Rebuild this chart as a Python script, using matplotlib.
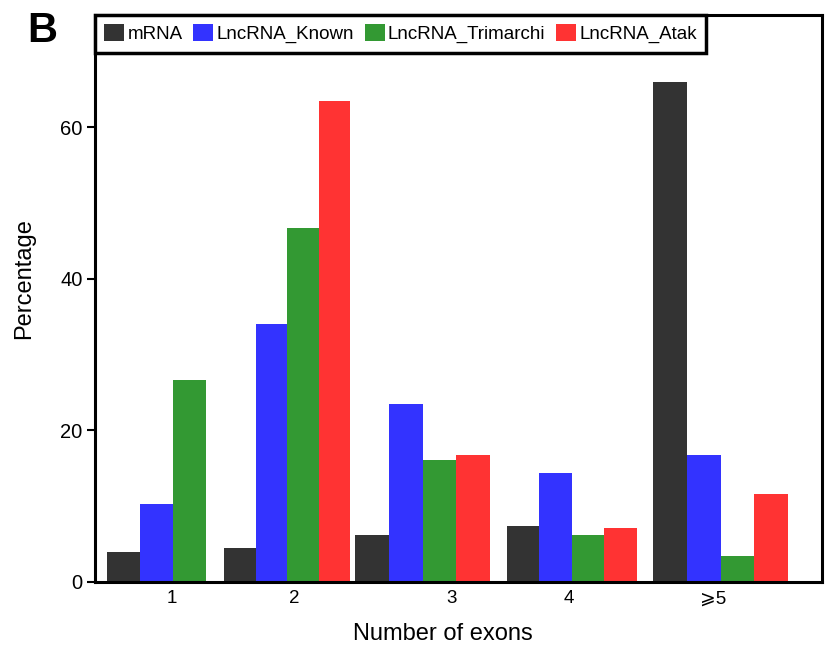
import matplotlib

matplotlib.use("Agg")
import matplotlib.pyplot as plt
import numpy as np

plt.rcParams["font.family"] = ["Liberation Sans", "DejaVu Sans"]

# exon-count classes and percentages per transcript set
categorias = ["1", "2", "3", "4", "\u2a7e5"]
series = ["mRNA", "LncRNA_Known", "LncRNA_Trimarchi", "LncRNA_Atak"]
mrna = [4.0, 4.5, 6.2, 7.4, 66.0]
lnc_known = [10.3, 34.0, 23.5, 14.4, 16.8]
lnc_trimarchi = [26.6, 46.7, 16.1, 6.2, 3.4]
lnc_atak = [0.0, 63.5, 16.8, 7.1, 11.6]

# group layout (bar-width units): left edge, bar width, label spot
inicio_grupo = np.array([0.36, 3.91, 7.88, 12.48, 16.91])
largura_grupo = np.array([1.0, 0.955, 1.023, 0.985, 1.023])
pos_rotulo = [2.33, 6.03, 10.79, 14.36, 18.73]

cores = ["#333333", "#3333ff", "#339933", "#ff3333"]

fig = plt.figure(figsize=(8.29, 6.47), dpi=100)
ax = fig.add_axes([0.1146, 0.1005, 0.877, 0.8763])

valores = [mrna, lnc_known, lnc_trimarchi, lnc_atak]
for i, (nome, vals, cor) in enumerate(zip(series, valores, cores)):
    x = inicio_grupo + largura_grupo * (i + 0.5)
    ax.bar(x, vals, width=largura_grupo, color=cor, label=nome, linewidth=0)

ax.set_xlim(0, 22.03)
ax.set_ylim(0, 74.8)
ax.set_yticks([0, 20, 40, 60])
ax.set_xticks(pos_rotulo)
ax.set_xticklabels(categorias, fontsize=13.5)
ax.tick_params(axis="x", length=0, pad=6)
ax.tick_params(axis="y", length=6, width=1.5, labelsize=14.5, pad=3)
for s in ax.spines.values():
    s.set_linewidth(2.2)

ax.set_ylabel("Percentage", fontsize=17)
ax.yaxis.set_label_coords(-0.083, 0.535)
ax.set_xlabel("Number of exons", fontsize=17)
ax.xaxis.set_label_coords(0.478, -0.072)

leg = ax.legend(loc="upper left", bbox_to_anchor=(0, 1), borderaxespad=0,
                ncol=4, fontsize=13.5, handlelength=1.07, handleheight=0.96,
                handletextpad=0.18, columnspacing=0.55, borderpad=0.5,
                fancybox=False, framealpha=1)
leg.get_frame().set_edgecolor("black")
leg.get_frame().set_linewidth(2.5)

fig.text(0.033, 0.935, "B", fontsize=30, fontweight="bold")

fig.savefig("out.png", dpi=100)
plt.close(fig)
